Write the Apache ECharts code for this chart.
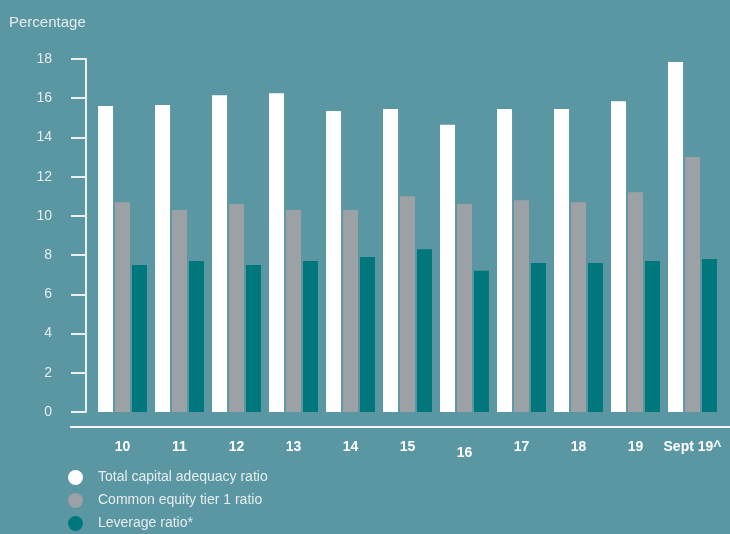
<!DOCTYPE html>
<html>
<head>
<meta charset="utf-8">
<script src="https://cdn.jsdelivr.net/npm/echarts@6/dist/echarts.min.js"></script>
<style>
  html, body { margin: 0; padding: 0; background: #5b96a3; }
  #chart { width: 730px; height: 534px; }
</style>
</head>
<body>
<div id="chart"></div>
<script>
// categories and series values
var categories = ['10', '11', '12', '13', '14', '15', '16', '17', '18', '19', 'Sept 19^'];
var totalCapital = [15.6, 15.65, 16.15, 16.25, 15.35, 15.45, 14.65, 15.45, 15.45, 15.85, 17.85];
var commonEquity = [10.7, 10.3, 10.6, 10.3, 10.3, 11.0, 10.6, 10.8, 10.7, 11.2, 13.0];
var leverage = [7.5, 7.7, 7.5, 7.7, 7.9, 8.3, 7.2, 7.6, 7.6, 7.7, 7.8];
var seriesNames = ['Total capital adequacy ratio', 'Common equity tier 1 ratio', 'Leverage ratio*'];

var font = 'Liberation Sans';
var lightText = '#e4eef0';

var chart = echarts.init(document.getElementById('chart'));

// the "16" label sits a little lower in the original
var xData = categories.map(function (c) {
  if (c === '16') {
    return { value: c, textStyle: { padding: [6, 0, 0, 0] } };
  }
  return c;
});

chart.setOption({
  backgroundColor: '#5b96a3',
  animation: false,
  title: {
    text: 'Percentage',
    left: 9,
    top: 15,
    padding: 0,
    textStyle: { color: lightText, fontFamily: font, fontSize: 15, fontWeight: 'normal' }
  },
  legend: {
    orient: 'vertical',
    left: 68,
    top: 470,
    padding: 0,
    height: 70,
    itemWidth: 15,
    itemHeight: 15,
    itemGap: 8,
    icon: 'circle',
    data: seriesNames,
    textStyle: { color: lightText, fontFamily: font, fontSize: 14, padding: [0, 0, 0, 10] }
  },
  grid: {
    left: 94,
    width: 627,
    top: 59,
    height: 353
  },
  xAxis: {
    type: 'category',
    data: xData,
    offset: 15,
    axisLine: { show: false },
    axisTick: { show: false },
    axisLabel: {
      interval: 0,
      color: '#ffffff',
      fontFamily: font,
      fontSize: 14,
      fontWeight: 'bold',
      margin: 13
    }
  },
  yAxis: {
    type: 'value',
    min: 0,
    max: 18,
    interval: 2,
    offset: 8,
    splitLine: { show: false },
    axisLine: { show: true, lineStyle: { color: '#e8f0f2', width: 2 } },
    axisTick: { show: true, length: 15, lineStyle: { color: '#e8f0f2', width: 2 } },
    axisLabel: {
      color: lightText,
      fontFamily: font,
      fontSize: 14,
      margin: 34
    }
  },
  graphic: [{
    type: 'line',
    shape: { x1: 70, y1: 427, x2: 730, y2: 427 },
    style: { stroke: '#f2f6f7', lineWidth: 2 }
  }],
  series: [
    {
      name: seriesNames[0],
      type: 'bar',
      data: totalCapital,
      barWidth: 15,
      barGap: '13%',
      itemStyle: { color: '#ffffff' }
    },
    {
      name: seriesNames[1],
      type: 'bar',
      data: commonEquity,
      barWidth: 15,
      barGap: '13%',
      itemStyle: { color: '#9ca1a5' }
    },
    {
      name: seriesNames[2],
      type: 'bar',
      data: leverage,
      barWidth: 15,
      barGap: '13%',
      itemStyle: { color: '#00767d' }
    }
  ]
});
</script>
</body>
</html>
